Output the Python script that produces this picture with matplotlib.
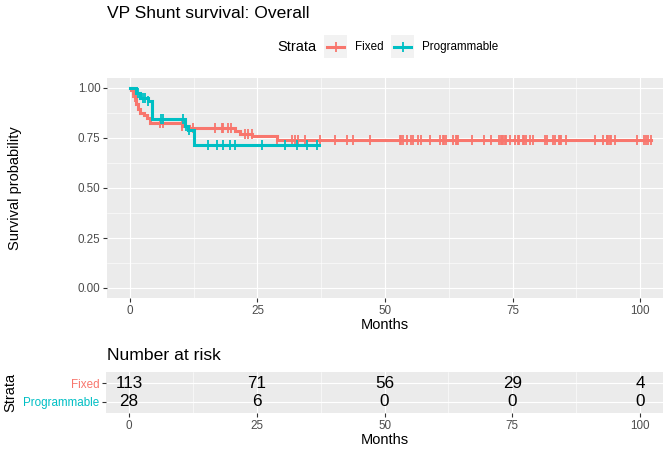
import numpy as np
import matplotlib.pyplot as plt
from matplotlib.ticker import MultipleLocator

plt.rcParams['font.family'] = ['Liberation Sans', 'DejaVu Sans']

# step points of the survival curves (months, survival probability)
fixed_time = [0, 0.3, 0.6, 1.0, 1.2, 1.5, 2.0, 2.8, 3.3, 4.0, 10.2, 11.5, 20.5, 21.5, 24.0, 28.8, 102.2]
fixed_surv = [1.0, 0.991, 0.973, 0.955, 0.92, 0.893, 0.875, 0.866, 0.848, 0.825, 0.81, 0.80, 0.785, 0.77, 0.76, 0.742, 0.742]
prog_time = [0, 1.2, 2.0, 3.5, 4.3, 10.8, 11.3, 12.6, 37.0]
prog_surv = [1.0, 0.975, 0.95, 0.935, 0.845, 0.81, 0.79, 0.715, 0.715]

# censoring times
fixed_cens = [0.6, 1.0, 5.9, 6.5, 10.2, 12.4, 16.7, 18.0, 18.3, 19.3, 19.9, 22.5, 23.2, 23.9,
              28.8, 31.7, 32.4, 33.0, 34.3, 37.3, 40.2, 42.5, 43.8, 47.1,
              52.9, 53.2, 53.6, 54.4, 55.0, 55.4, 56.5, 57.0, 58.9, 60.7, 61.3, 61.6, 62.0, 63.4,
              64.0, 64.2, 64.4, 67.0, 69.4, 70.7, 72.4, 72.7, 72.9, 73.2, 73.5, 73.7, 74.5,
              75.5, 76.0, 76.3, 77.0, 77.3, 77.6, 78.4, 79.1, 81.4, 81.7, 83.0, 83.3, 84.2, 84.4,
              84.6, 85.5, 91.2, 92.7, 93.5, 93.6, 93.8, 94.1, 94.4, 95.1, 99.5, 100.8, 101.2, 101.6, 102.1]
prog_cens = [1.5, 2.5, 3.0, 3.5, 6.0, 6.5, 10.4, 11.0, 11.5, 15.3, 17.0, 18.2, 19.6, 20.6,
             25.9, 30.4, 32.7, 34.7, 36.7]

# number at risk table
risk_times = [0, 25, 50, 75, 100]
risk_fixed = [113, 71, 56, 29, 4]
risk_prog = [28, 6, 0, 0, 0]

strata = ['Fixed', 'Programmable']
colors = ['#F8766D', '#00BFC4']

W, H = 669, 450
fig = plt.figure(figsize=(W / 100, H / 100), dpi=100)


def box(l, t, r, b):
    return [l / W, 1 - b / H, (r - l) / W, (b - t) / H]


def gg_axes(ax):
    ax.set_facecolor('#EBEBEB')
    for s in ax.spines.values():
        s.set_visible(False)
    ax.grid(True, which='major', color='white', lw=0.8)
    ax.grid(True, which='minor', color='white', lw=0.4)
    ax.set_axisbelow(True)
    ax.tick_params(which='major', length=2.8, width=0.8, color='#333333',
                   labelcolor='#4D4D4D', labelsize=8.4, pad=2)
    ax.tick_params(which='minor', length=0)


def surv_at(times, surv, t):
    idx = np.searchsorted(times, t, side='right') - 1
    return np.array(surv)[idx]


# main survival plot
ax = fig.add_axes(box(107, 78, 663, 298))
gg_axes(ax)
for times, surv, cens, col in [(fixed_time, fixed_surv, fixed_cens, colors[0]),
                               (prog_time, prog_surv, prog_cens, colors[1])]:
    ax.step(times, surv, where='post', color=col, lw=2.2, solid_joinstyle='miter')
    ax.plot(cens, surv_at(times, surv, cens), ls='none', marker='|', ms=7.5,
            mew=1.3, color=col)
ax.set_xlim(-4.5, 104.5)
ax.set_ylim(-0.05, 1.05)
ax.xaxis.set_major_locator(MultipleLocator(25))
ax.xaxis.set_minor_locator(MultipleLocator(12.5))
ax.yaxis.set_major_locator(MultipleLocator(0.25))
ax.yaxis.set_minor_locator(MultipleLocator(0.125))
ax.set_yticklabels([f'{v:.2f}' for v in ax.get_yticks()])
ax.set_xlabel('Months', fontsize=10.5, labelpad=1)
ax.set_ylabel('Survival probability', fontsize=10.5)
ax.yaxis.set_label_coords((22 - 107) / 556, 0.5)

fig.text(107 / W, 1 - 14 / H, 'VP Shunt survival: Overall', fontsize=12.6,
         ha='left', va='center')

# legend
fig.text(277 / W, 1 - 47 / H, 'Strata', fontsize=10.5, ha='left', va='center')
for (l, r, tx), name, col in zip([(324, 347, 355), (391, 414, 422)], strata, colors):
    kx = fig.add_axes(box(l, 35, r, 58))
    kx.set_facecolor('#F2F2F2')
    kx.set_xlim(0, 1)
    kx.set_ylim(0, 1)
    kx.set_xticks([])
    kx.set_yticks([])
    for s in kx.spines.values():
        s.set_visible(False)
    kx.plot([0.12, 0.88], [0.5, 0.5], color=col, lw=2.2)
    kx.plot([0.5], [0.5], marker='|', ms=7.5, mew=1.3, color=col)
    fig.text(tx / W, 1 - 47 / H, name, fontsize=8.4, ha='left', va='center')

# risk table
fig.text(107 / W, 1 - 355 / H, 'Number at risk', fontsize=12.6, ha='left', va='center')
rx = fig.add_axes(box(106, 372, 663, 413))
gg_axes(rx)
rx.set_xlim(-4.5, 104.5)
rx.set_ylim(0.4, 2.6)
rx.xaxis.set_major_locator(MultipleLocator(25))
rx.xaxis.set_minor_locator(MultipleLocator(12.5))
rx.set_yticks([2, 1])
rx.set_yticklabels(strata)
for lab, col in zip(rx.get_yticklabels(), colors):
    lab.set_color(col)
for t, a, b in zip(risk_times, risk_fixed, risk_prog):
    rx.text(t, 2, str(a), fontsize=12.3, ha='center', va='center')
    rx.text(t, 1, str(b), fontsize=12.3, ha='center', va='center')
rx.set_xlabel('Months', fontsize=10.5, labelpad=1)
rx.set_ylabel('Strata', fontsize=10.5)
rx.yaxis.set_label_coords((17 - 106) / 557, 0.5)

fig.savefig('out.png', dpi=100)
